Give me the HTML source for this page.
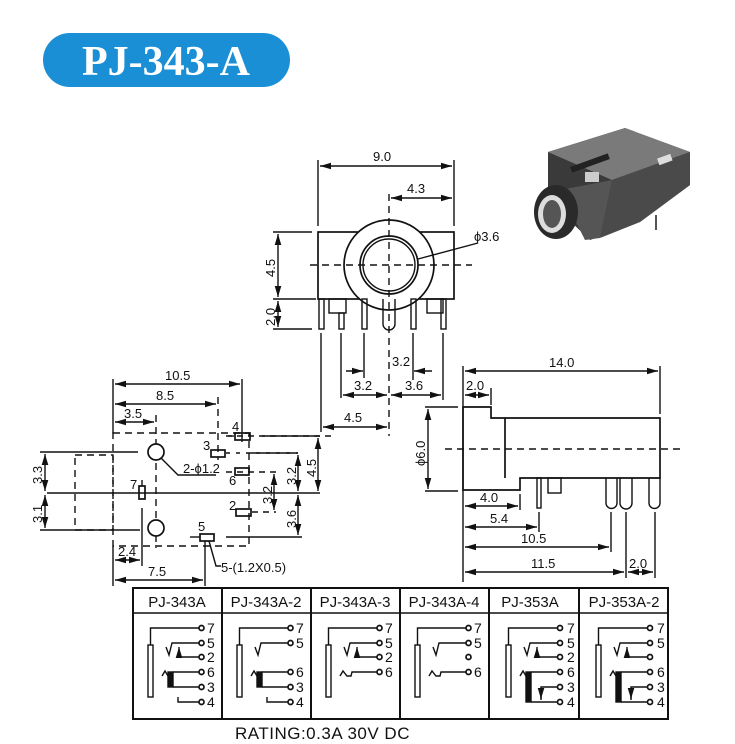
<!DOCTYPE html>
<html><head><meta charset="utf-8"><style>
html,body{margin:0;padding:0;background:#fff;width:735px;height:744px;overflow:hidden}
svg{display:block}
text{font-family:"Liberation Sans",Arial,sans-serif;fill:#111}
</style></head><body>
<svg width="735" height="744" viewBox="0 0 735 744" xmlns="http://www.w3.org/2000/svg">
<defs>
<marker id="a" viewBox="0 0 10 6" refX="10" refY="3" markerWidth="8" markerHeight="5" orient="auto-start-reverse"><path d="M0 0 L10 3 L0 6 z" fill="#111"/></marker>
</defs>
<rect x="43" y="33" width="247" height="54" rx="27" fill="#1a8fd6"/>
<text x="166" y="75" text-anchor="middle" style="font-family:'Liberation Serif',serif;font-weight:bold;font-size:42px;fill:#fff">PJ-343-A</text>

<g>
<polygon points="548,152 625,128 690,152 690,185 640,222 590,240 548,200" fill="#3a3a3a"/>
<polygon points="548,152 625,128 690,152 612,180" fill="#7a7a7a"/>
<polygon points="612,180 690,152 690,185 640,222 600,238" fill="#4a4a4a"/>
<polygon points="560,190 612,180 600,238 585,240" fill="#555"/>
<rect x="570" y="160" width="40" height="6" fill="#222" transform="rotate(-20 590 163)"/>
<rect x="658" y="156" width="14" height="7" fill="#ddd" transform="rotate(-20 665 160)"/>
<rect x="585" y="172" width="14" height="10" fill="#ccc"/>
<ellipse cx="556" cy="212" rx="22" ry="27" fill="#2a2a2a"/>
<ellipse cx="552" cy="214" rx="14" ry="19" fill="#ddd"/>
<ellipse cx="552" cy="214" rx="9" ry="14" fill="#555"/>
<line x1="656" y1="215" x2="656" y2="230" stroke="#555" stroke-width="2"/>
</g>

<g stroke="#111" stroke-width="1.4" fill="none">
<line x1="318" y1="160" x2="318" y2="226"/><line x1="454" y1="160" x2="454" y2="226"/>
<line x1="320" y1="166" x2="452" y2="166" marker-start="url(#a)" marker-end="url(#a)"/>
<line x1="391" y1="198" x2="452" y2="198" marker-start="url(#a)" marker-end="url(#a)"/>
<rect x="318" y="232" width="136" height="67" stroke-width="1.7"/>
<circle cx="389" cy="265" r="45" fill="#fff" stroke-width="1.7"/>
<circle cx="389" cy="265" r="29" stroke-width="1.7"/>
<circle cx="389" cy="265" r="26" stroke-width="1.4"/>
<line x1="310" y1="265" x2="472" y2="265" stroke-dasharray="7,5"/>
<line x1="389" y1="194" x2="389" y2="436" stroke-dasharray="7,5"/>
<line x1="418" y1="259" x2="478" y2="243"/>
<rect x="319" y="299" width="5" height="30"/>
<rect x="329" y="299" width="17" height="14"/>
<rect x="339" y="313" width="5" height="16"/>
<rect x="362" y="299" width="5" height="30"/>
<path d="M383 299 V324 A6 6 0 0 0 395 324 V299"/>
<rect x="411" y="299" width="5" height="30"/>
<rect x="427" y="299" width="16" height="14"/>
<rect x="441" y="299" width="5" height="30"/>
<line x1="273" y1="232" x2="312" y2="232"/><line x1="273" y1="299" x2="316" y2="299"/><line x1="273" y1="329" x2="312" y2="329"/>
<line x1="278" y1="234" x2="278" y2="297" marker-start="url(#a)" marker-end="url(#a)"/>
<line x1="278" y1="301" x2="278" y2="327" marker-start="url(#a)" marker-end="url(#a)"/>
<line x1="321" y1="333" x2="321" y2="432"/>
<line x1="341" y1="333" x2="341" y2="398"/>
<line x1="364" y1="333" x2="364" y2="378"/>
<line x1="413" y1="333" x2="413" y2="380"/>
<line x1="443" y1="333" x2="443" y2="400"/>
<line x1="346" y1="371" x2="363" y2="371" marker-end="url(#a)"/>
<line x1="432" y1="371" x2="414" y2="371" marker-end="url(#a)"/>
<line x1="343" y1="395" x2="387" y2="395" marker-start="url(#a)" marker-end="url(#a)"/>
<line x1="391" y1="395" x2="441" y2="395" marker-start="url(#a)" marker-end="url(#a)"/>
<line x1="323" y1="427" x2="387" y2="427" marker-start="url(#a)" marker-end="url(#a)"/>

<line x1="113" y1="379" x2="113" y2="433"/>
<line x1="113" y1="546" x2="113" y2="586"/>
<line x1="242" y1="379" x2="242" y2="436"/>
<line x1="115" y1="384" x2="240" y2="384" marker-start="url(#a)" marker-end="url(#a)"/>
<line x1="115" y1="404" x2="216" y2="404" marker-start="url(#a)" marker-end="url(#a)"/>
<line x1="115" y1="422" x2="154" y2="422" marker-start="url(#a)" marker-end="url(#a)"/>
<line x1="218" y1="397" x2="218" y2="460" stroke-dasharray="7,5"/>
<rect x="113" y="433" width="136" height="113" stroke-dasharray="7,5"/>
<rect x="75" y="455" width="38" height="75" stroke-dasharray="7,5"/>
<line x1="47" y1="493" x2="320" y2="493"/>
<line x1="40" y1="452" x2="138" y2="452"/>
<line x1="40" y1="530" x2="140" y2="530"/>
<line x1="156" y1="415" x2="156" y2="548" stroke-dasharray="7,5"/>
<circle cx="156" cy="452" r="8" fill="#fff" stroke-width="1.7"/>
<circle cx="156" cy="528" r="8" fill="#fff" stroke-width="1.7"/>
<line x1="45" y1="454" x2="45" y2="491" marker-start="url(#a)" marker-end="url(#a)"/>
<line x1="45" y1="495" x2="45" y2="528" marker-start="url(#a)" marker-end="url(#a)"/>
<path d="M161 458 L178 475 H216"/>
<rect x="235" y="433" width="15" height="7" stroke-width="1.7"/>
<rect x="211" y="450" width="14" height="7" stroke-width="1.7"/>
<rect x="235" y="468" width="14" height="7" stroke-width="1.7"/>
<rect x="139" y="486" width="6" height="13" stroke-width="1.7"/>
<rect x="236" y="509" width="15" height="7" stroke-width="1.7"/>
<rect x="200" y="534" width="14" height="7" stroke-width="1.7"/>
<line x1="228" y1="436" x2="234" y2="436"/>
<line x1="226" y1="436" x2="332" y2="436" stroke-dasharray="6,5"/>
<line x1="262" y1="436" x2="320" y2="436"/>
<line x1="226" y1="453" x2="298" y2="453" stroke-dasharray="4,6"/>
<line x1="250" y1="453" x2="298" y2="453"/>
<line x1="226" y1="472" x2="276" y2="472" stroke-dasharray="6,5"/>
<line x1="252" y1="512" x2="276" y2="512" stroke-dasharray="6,5"/>
<line x1="190" y1="537" x2="200" y2="537"/>
<line x1="226" y1="537" x2="302" y2="537"/>
<line x1="242" y1="436" x2="242" y2="442"/>
<line x1="142" y1="480" x2="142" y2="486"/>
<line x1="318" y1="438" x2="318" y2="491" marker-start="url(#a)" marker-end="url(#a)"/>
<line x1="298" y1="455" x2="298" y2="491" marker-start="url(#a)" marker-end="url(#a)"/>
<line x1="274" y1="474" x2="274" y2="510" marker-start="url(#a)" marker-end="url(#a)"/>
<line x1="298" y1="495" x2="298" y2="535" marker-start="url(#a)" marker-end="url(#a)"/>
<line x1="142" y1="508" x2="142" y2="566"/>
<line x1="205" y1="541" x2="205" y2="586"/>
<line x1="115" y1="560" x2="140" y2="560" marker-start="url(#a)" marker-end="url(#a)"/>
<line x1="115" y1="580" x2="203" y2="580" marker-start="url(#a)" marker-end="url(#a)"/>
<path d="M209 541 L216 566 H221"/>

<line x1="463" y1="366" x2="463" y2="582"/>
<line x1="660" y1="366" x2="660" y2="414"/>
<line x1="491" y1="388" x2="491" y2="405"/>
<line x1="465" y1="371" x2="658" y2="371" marker-start="url(#a)" marker-end="url(#a)"/>
<line x1="465" y1="395" x2="489" y2="395" marker-start="url(#a)" marker-end="url(#a)"/>
<path d="M463 407 H491 V418 H660 V478 H520 V490 H463 Z" stroke-width="1.7"/>
<line x1="505" y1="418" x2="505" y2="478" stroke-width="1.7"/>
<line x1="445" y1="449" x2="682" y2="449" stroke-dasharray="7,5"/>
<line x1="425" y1="407" x2="458" y2="407"/><line x1="425" y1="491" x2="458" y2="491"/>
<line x1="428" y1="409" x2="428" y2="489" marker-start="url(#a)" marker-end="url(#a)"/>
<rect x="537" y="478" width="4" height="30"/>
<rect x="548" y="478" width="13" height="15"/>
<path d="M606 478 V503 A5.5 5.5 0 0 0 617 503 V478"/>
<path d="M620 478 V503 A6 6 0 0 0 632 503 V478"/>
<path d="M649 478 V503 A5.5 5.5 0 0 0 660 503 V478"/>
<line x1="520" y1="494" x2="520" y2="510"/>
<line x1="539" y1="512" x2="539" y2="532"/>
<line x1="611" y1="512" x2="611" y2="552"/>
<line x1="626" y1="512" x2="626" y2="578"/>
<line x1="655" y1="512" x2="655" y2="578"/>
<line x1="465" y1="506" x2="518" y2="506" marker-start="url(#a)" marker-end="url(#a)"/>
<line x1="465" y1="527" x2="537" y2="527" marker-start="url(#a)" marker-end="url(#a)"/>
<line x1="465" y1="547" x2="609" y2="547" marker-start="url(#a)" marker-end="url(#a)"/>
<line x1="465" y1="572" x2="624" y2="572" marker-start="url(#a)" marker-end="url(#a)"/>
<line x1="628" y1="572" x2="653" y2="572" marker-start="url(#a)" marker-end="url(#a)"/>
</g>

<g style="font-size:13px">
<text x="373" y="161">9.0</text>
<text x="407" y="193">4.3</text>
<text x="474" y="241">ϕ3.6</text>
<text x="392" y="366">3.2</text>
<text x="354" y="390">3.2</text>
<text x="405" y="390">3.6</text>
<text x="344" y="422">4.5</text>
<text transform="translate(275,277) rotate(-90)">4.5</text>
<text transform="translate(275,326) rotate(-90)">2.0</text>
<text x="165" y="380">10.5</text>
<text x="156" y="400">8.5</text>
<text x="124" y="418">3.5</text>
<text x="232" y="431">4</text>
<text x="203" y="450">3</text>
<text x="229" y="485">6</text>
<text x="130" y="489">7</text>
<text x="229" y="510">2</text>
<text x="198" y="531">5</text>
<text x="183" y="473">2-ϕ1.2</text>
<text x="221" y="572">5-(1.2X0.5)</text>
<text x="118" y="556">2.4</text>
<text x="148" y="576">7.5</text>
<text transform="translate(42,484) rotate(-90)">3.3</text>
<text transform="translate(42,523) rotate(-90)">3.1</text>
<text transform="translate(316,477) rotate(-90)">4.5</text>
<text transform="translate(296,485) rotate(-90)">3.2</text>
<text transform="translate(272,504) rotate(-90)">3.2</text>
<text transform="translate(296,528) rotate(-90)">3.6</text>
<text x="549" y="367">14.0</text>
<text x="466" y="390">2.0</text>
<text transform="translate(425,466) rotate(-90)">ϕ6.0</text>
<text x="480" y="502">4.0</text>
<text x="490" y="523">5.4</text>
<text x="521" y="543">10.5</text>
<text x="531" y="568">11.5</text>
<text x="629" y="568">2.0</text>
</g>

<g stroke="#111" fill="none">
<rect x="133" y="588" width="535" height="131" stroke-width="2"/>
<line x1="133" y1="613" x2="668" y2="613" stroke-width="1.5"/>
<line x1="222" y1="588" x2="222" y2="719" stroke-width="2"/>
<line x1="311" y1="588" x2="311" y2="719" stroke-width="2"/>
<line x1="400" y1="588" x2="400" y2="719" stroke-width="2"/>
<line x1="489" y1="588" x2="489" y2="719" stroke-width="2"/>
<line x1="579" y1="588" x2="579" y2="719" stroke-width="2"/>
</g>
<g style="font-size:15px" text-anchor="middle">
<text x="177" y="607">PJ-343A</text>
<text x="266" y="607">PJ-343A-2</text>
<text x="355" y="607">PJ-343A-3</text>
<text x="444" y="607">PJ-343A-4</text>
<text x="530" y="607">PJ-353A</text>
<text x="624" y="607">PJ-353A-2</text>
</g>
<text x="235" y="739" style="font-size:17px;letter-spacing:0.5px">RATING:0.3A 30V DC</text>

<g stroke="#111" stroke-width="1.4" fill="none">
<g transform="translate(133,0)">
<rect x="15" y="645" width="5" height="52"/>
<path d="M17.5 645 V628 H66"/><circle cx="68.5" cy="628" r="2.5" stroke-width="1.7"/>
<path d="M33 647 L36 655 L39 643 H66"/><circle cx="68.5" cy="643" r="2.5" stroke-width="1.7"/>
<path d="M46 657 V647" marker-end="url(#a)"/><path d="M46 657 H66"/><circle cx="68.5" cy="657" r="2.5" stroke-width="1.7"/>
<path d="M29 676 L32 671 L35 676"/><rect x="35" y="672" width="5" height="15" fill="#111"/><path d="M40 672 H66"/><circle cx="68.5" cy="672" r="2.5" stroke-width="1.7"/>
<path d="M40 687 H66"/><circle cx="68.5" cy="687" r="2.5" stroke-width="1.7"/>
<path d="M45 697 V702 H66"/><circle cx="68.5" cy="702" r="2.5" stroke-width="1.7"/>
</g>
<g transform="translate(222,0)">
<rect x="15" y="645" width="5" height="52"/>
<path d="M17.5 645 V628 H66"/><circle cx="68.5" cy="628" r="2.5" stroke-width="1.7"/>
<path d="M33 647 L36 655 L39 643 H66"/><circle cx="68.5" cy="643" r="2.5" stroke-width="1.7"/>
<path d="M29 676 L32 671 L35 676"/><rect x="35" y="672" width="5" height="15" fill="#111"/><path d="M40 672 H66"/><circle cx="68.5" cy="672" r="2.5" stroke-width="1.7"/>
<path d="M40 687 H66"/><circle cx="68.5" cy="687" r="2.5" stroke-width="1.7"/>
<path d="M45 697 V702 H66"/><circle cx="68.5" cy="702" r="2.5" stroke-width="1.7"/>
</g>
<g transform="translate(311,0)">
<rect x="15" y="645" width="5" height="52"/>
<path d="M17.5 645 V628 H66"/><circle cx="68.5" cy="628" r="2.5" stroke-width="1.7"/>
<path d="M33 647 L36 655 L39 643 H66"/><circle cx="68.5" cy="643" r="2.5" stroke-width="1.7"/>
<path d="M46 657 V647" marker-end="url(#a)"/><path d="M46 657 H66"/><circle cx="68.5" cy="657" r="2.5" stroke-width="1.7"/>
<path d="M29 676 L32 671 L36 676 H40 L41 672 H66"/><circle cx="68.5" cy="672" r="2.5" stroke-width="1.7"/>
</g>
<g transform="translate(400,0)">
<rect x="15" y="645" width="5" height="52"/>
<path d="M17.5 645 V628 H66"/><circle cx="68.5" cy="628" r="2.5" stroke-width="1.7"/>
<path d="M33 647 L36 655 L39 643 H66"/><circle cx="68.5" cy="643" r="2.5" stroke-width="1.7"/>
<circle cx="68.5" cy="657" r="2.5" stroke-width="1.7"/>
<path d="M29 676 L32 671 L36 676 H40 L41 672 H66"/><circle cx="68.5" cy="672" r="2.5" stroke-width="1.7"/>
</g>
<g transform="translate(489,0)">
<rect x="17" y="645" width="5" height="52"/>
<path d="M19.5 645 V628 H68"/><circle cx="71" cy="628" r="2.5" stroke-width="1.7"/>
<path d="M35 647 L38 655 L41 643 H68"/><circle cx="71" cy="643" r="2.5" stroke-width="1.7"/>
<path d="M48 657 V647" marker-end="url(#a)"/><path d="M48 657 H68"/><circle cx="71" cy="657" r="2.5" stroke-width="1.7"/>
<path d="M31 676 L34 671 L37 676"/><rect x="37" y="672" width="5" height="30" fill="#111"/><path d="M42 672 H68"/><circle cx="71" cy="672" r="2.5" stroke-width="1.7"/>
<path d="M52 700 V687 H68"/><path d="M52 690 V699" marker-end="url(#a)"/><circle cx="71" cy="687" r="2.5" stroke-width="1.7"/>
<path d="M42 702 H68"/><circle cx="71" cy="702" r="2.5" stroke-width="1.7"/>
</g>
<g transform="translate(579,0)">
<rect x="17" y="645" width="5" height="52"/>
<path d="M19.5 645 V628 H68"/><circle cx="71" cy="628" r="2.5" stroke-width="1.7"/>
<path d="M35 647 L38 655 L41 643 H68"/><circle cx="71" cy="643" r="2.5" stroke-width="1.7"/>
<path d="M48 657 V647" marker-end="url(#a)"/><path d="M48 657 H68"/><circle cx="71" cy="657" r="2.5" stroke-width="1.7"/>
<path d="M31 676 L34 671 L37 676"/><rect x="37" y="672" width="5" height="30" fill="#111"/><path d="M42 672 H68"/><circle cx="71" cy="672" r="2.5" stroke-width="1.7"/>
<path d="M52 700 V687 H68"/><path d="M52 690 V699" marker-end="url(#a)"/><circle cx="71" cy="687" r="2.5" stroke-width="1.7"/>
<path d="M42 702 H68"/><circle cx="71" cy="702" r="2.5" stroke-width="1.7"/>
</g>
</g>
<g style="font-size:14px">
<text x="207" y="633">7</text><text x="207" y="648">5</text><text x="207" y="662">2</text><text x="207" y="677">6</text><text x="207" y="692">3</text><text x="207" y="707">4</text>
<text x="296" y="633">7</text><text x="296" y="648">5</text><text x="296" y="677">6</text><text x="296" y="692">3</text><text x="296" y="707">4</text>
<text x="385" y="633">7</text><text x="385" y="648">5</text><text x="385" y="662">2</text><text x="385" y="677">6</text>
<text x="474" y="633">7</text><text x="474" y="648">5</text><text x="474" y="677">6</text>
<text x="567" y="633">7</text><text x="567" y="648">5</text><text x="567" y="662">2</text><text x="567" y="677">6</text><text x="567" y="692">3</text><text x="567" y="707">4</text>
<text x="657" y="633">7</text><text x="657" y="648">5</text><text x="657" y="677">6</text><text x="657" y="692">3</text><text x="657" y="707">4</text>
</g>
</svg>
</body></html>
